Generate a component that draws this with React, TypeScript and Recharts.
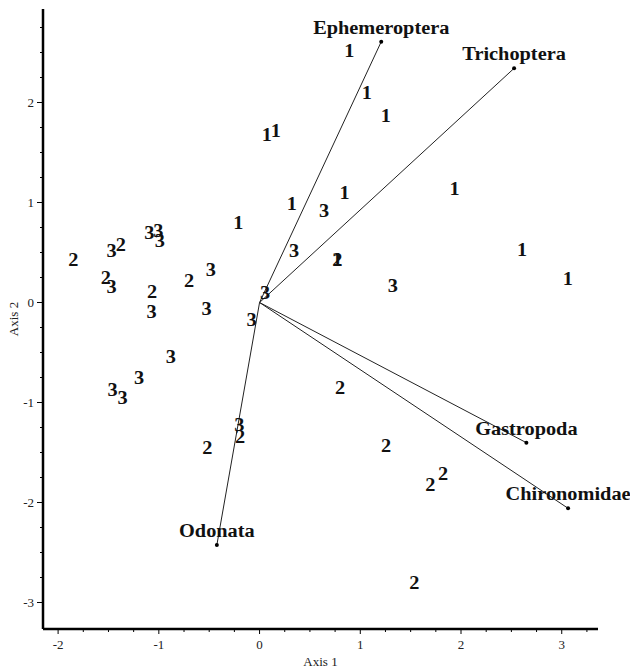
import React from 'react';
import {
  ScatterChart,
  Scatter,
  XAxis,
  YAxis,
  ReferenceLine,
} from 'recharts';

// site scores, grouped by site type
const group1X = [0.89, 1.066, 1.254, 0.072, 0.161, -0.21, 0.32, 0.843, 1.936, 0.773, 2.606, 3.06];
const group1Y = [2.518, 2.1, 1.865, 1.675, 1.715, 0.8, 0.99, 1.092, 1.135, 0.425, 0.525, 0.232];

const group2X = [-1.85, -1.377, -1.526, -1.066, -0.7, 0.773, -0.194, -0.519, 0.8, 1.257, 1.695, 1.821, 1.536];
const group2Y = [0.425, 0.58, 0.248, 0.108, 0.218, 0.425, -1.342, -1.458, -0.858, -1.432, -1.825, -1.715, -2.808];

const group3X = [-1.47, -1.469, -1.095, -1.006, -0.989, -1.072, -0.485, -0.525, 0.055, -0.078, 0.641, 0.343, 1.324, -0.88, -1.195, -1.459, -1.36, -0.2];
const group3Y = [0.52, 0.158, 0.7, 0.72, 0.62, -0.098, 0.325, -0.065, 0.092, -0.175, 0.915, 0.515, 0.165, -0.542, -0.752, -0.875, -0.958, -1.225];

// taxon vectors
const taxa = ['Ephemeroptera', 'Trichoptera', 'Gastropoda', 'Chironomidae', 'Odonata'];
const taxaX = [1.208, 2.527, 2.649, 3.063, -0.424];
const taxaY = [2.608, 2.342, -1.402, -2.058, -2.425];

const xTicks = [-2, -1.75, -1.5, -1.25, -1, -0.75, -0.5, -0.25, 0, 0.25, 0.5, 0.75, 1, 1.25, 1.5, 1.75, 2, 2.25, 2.5, 2.75, 3, 3.25];
const yTicks = [-3, -2.75, -2.5, -2.25, -2, -1.75, -1.5, -1.25, -1, -0.75, -0.5, -0.25, 0, 0.25, 0.5, 0.75, 1, 1.25, 1.5, 1.75, 2, 2.25, 2.5, 2.75];

const toPoints = (xs: number[], ys: number[]) => xs.map((x, i) => ({ x, y: ys[i] }));
const vectorPoints = taxa.map((name, i) => ({ name, x: taxaX[i], y: taxaY[i] }));

const SERIF = '"Liberation Serif", "Times New Roman", serif';

const makeDigit = (label: string) => (props: any) => {
  const { cx, cy } = props;
  return (
    <text
      transform={`translate(${cx},${cy + 6}) scale(1.13,1)`}
      textAnchor="middle"
      fontFamily={SERIF}
      fontWeight="bold"
      fontSize={18}
      fill="#111"
    >
      {label}
    </text>
  );
};

const VectorTip = (props: any) => {
  const { cx, cy, payload } = props;
  return (
    <g>
      <circle cx={cx} cy={cy} r={2} fill="#000" />
      <text
        transform={`translate(${cx},${cy - 8}) scale(1.13,1)`}
        textAnchor="middle"
        fontFamily={SERIF}
        fontWeight="bold"
        fontSize={18}
        fill="#111"
      >
        {payload?.name}
      </text>
    </g>
  );
};

const XTick = (props: any) => {
  const { x, y, payload } = props;
  const major = Number.isInteger(payload.value);
  return (
    <g>
      <line x1={x} y1={y} x2={x} y2={y + (major ? 5 : 3)} stroke="#000" />
      {major && (
        <text x={x} y={y + 20} textAnchor="middle" fontFamily={SERIF} fontSize={13} fill="#222">
          {payload.value}
        </text>
      )}
    </g>
  );
};

const YTick = (props: any) => {
  const { x, y, payload } = props;
  const major = Number.isInteger(payload.value);
  return (
    <g>
      <line x1={x} y1={y} x2={x - (major ? 6 : 3)} y2={y} stroke="#000" />
      {major && (
        <text x={x - 9} y={y + 4.5} textAnchor="end" fontFamily={SERIF} fontSize={13} fill="#222">
          {payload.value}
        </text>
      )}
    </g>
  );
};

const XLabel = (props: any) => {
  const vb = props.viewBox || {};
  const cx = (vb.x ?? 43) + (vb.width ?? 555) / 2;
  return (
    <text x={cx} y={666} textAnchor="middle" fontFamily={SERIF} fontSize={13} fill="#222">
      Axis 1
    </text>
  );
};

const YLabel = (props: any) => {
  const vb = props.viewBox || {};
  const cy = (vb.y ?? 9) + (vb.height ?? 620) / 2;
  return (
    <text
      x={18}
      y={cy}
      transform={`rotate(-90 18 ${cy})`}
      textAnchor="middle"
      fontFamily={SERIF}
      fontSize={13}
      fill="#222"
    >
      Axis 2
    </text>
  );
};

const App: React.FC = () => {
  return (
    <div style={{ position: 'absolute', left: 0, top: 0, width: 630, height: 668, background: '#fff' }}>
      <ScatterChart
        width={630}
        height={668}
        margin={{ top: 9, right: 32, bottom: 0, left: 0 }}
        style={{ overflow: 'visible' }}
      >
        <XAxis
          type="number"
          dataKey="x"
          domain={[-2.15, 3.36]}
          ticks={xTicks}
          interval={0}
          height={39}
          tickSize={0}
          tickMargin={0}
          tick={<XTick />}
          axisLine={{ stroke: '#000', strokeWidth: 2.5 }}
          label={<XLabel />}
        />
        <YAxis
          type="number"
          dataKey="y"
          domain={[-3.265, 2.935]}
          ticks={yTicks}
          interval={0}
          width={43}
          tickSize={0}
          tickMargin={0}
          tick={<YTick />}
          axisLine={{ stroke: '#000', strokeWidth: 2.5 }}
          label={<YLabel />}
        />
        {vectorPoints.map((v) => (
          <ReferenceLine
            key={v.name}
            segment={[{ x: 0, y: 0 }, { x: v.x, y: v.y }]}
            stroke="#222"
            strokeWidth={1}
            ifOverflow="visible"
          />
        ))}
        <Scatter data={toPoints(group1X, group1Y)} shape={makeDigit('1')} isAnimationActive={false} />
        <Scatter data={toPoints(group2X, group2Y)} shape={makeDigit('2')} isAnimationActive={false} />
        <Scatter data={toPoints(group3X, group3Y)} shape={makeDigit('3')} isAnimationActive={false} />
        <Scatter data={vectorPoints} shape={<VectorTip />} isAnimationActive={false} />
      </ScatterChart>
    </div>
  );
};

export default App;
